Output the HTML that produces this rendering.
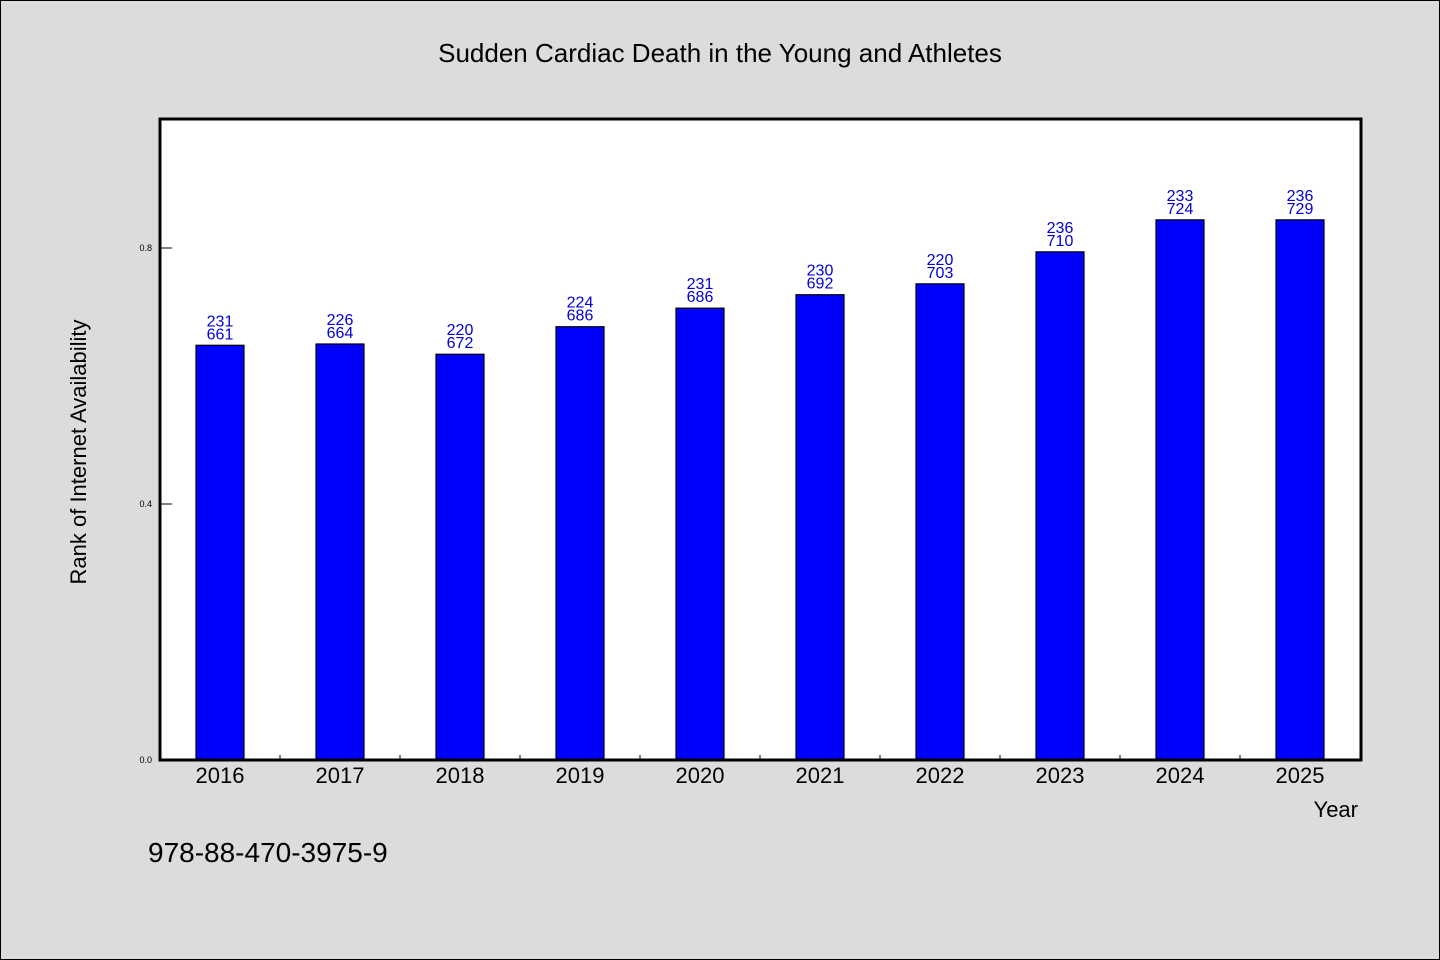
<!DOCTYPE html>
<html><head><meta charset="utf-8"><style>
html,body{margin:0;padding:0;background:#dcdcdc;}
svg{display:block;font-family:"WenQuanYi Zen Hei","Liberation Sans",sans-serif;}
</style></head><body>
<svg id="chart" width="1440" height="960" viewBox="0 0 1440 960" xmlns="http://www.w3.org/2000/svg">
<rect x="0.5" y="0.5" width="1439" height="959" fill="#dcdcdc" stroke="#000"/>
<text x="720" y="62" text-anchor="middle" font-size="26">Sudden Cardiac Death in the Young and Athletes</text>
<rect x="160" y="119" width="1201" height="641" fill="#fff"/>
<g id="bars"></g>
<g id="axes"></g>
<path d="M160 119 H1361 V760 H160 Z" fill="none" stroke="#000" stroke-width="3"/>
<text x="86" y="452" text-anchor="middle" font-size="22" transform="rotate(-90 86 452)">Rank of Internet Availability</text>
<text x="1358" y="817" text-anchor="end" font-size="22">Year</text>
<text x="148" y="862" font-size="28">978-88-470-3975-9</text>
</svg>
<script>
const categories=["2016","2017","2018","2019","2020","2021","2022","2023","2024","2025"];
const values=[0.648,0.650,0.634,0.677,0.706,0.727,0.744,0.794,0.844,0.844];
const labelTop=["231","226","220","224","231","230","220","236","233","236"];
const labelBottom=["661","664","672","686","686","692","703","710","724","729"];
const yTicks=[0,0.4,0.8];
const yTickLabels=["0.0","0.4","0.8"];
const NS="http://www.w3.org/2000/svg";
const x0=160,x1=1360,yBase=760,yTop=120,yMax=1.0;
const band=(x1-x0)/categories.length;
const yS=v=>yBase-(v/yMax)*(yBase-yTop);
const xC=i=>x0+band*(i+0.5);
function mk(t,a){const e=document.createElementNS(NS,t);for(const k in a)e.setAttribute(k,a[k]);return e;}
const bars=document.getElementById('bars'),axes=document.getElementById('axes');
categories.forEach((c,i)=>{
  const y=yS(values[i]);
  const r=mk('rect',{x:xC(i)-24,y:y,width:48,height:yBase-y,fill:'#0000ff',stroke:'#000','stroke-width':1.2});
  
  
  bars.appendChild(r);
  const t1=mk('text',{x:xC(i),y:y-19,'text-anchor':'middle','font-size':16,fill:'#0000dd'});
  t1.textContent=labelTop[i];
  
  
  bars.appendChild(t1);
  const t2=mk('text',{x:xC(i),y:y-6,'text-anchor':'middle','font-size':16,fill:'#0000dd'});
  t2.textContent=labelBottom[i];
  
  
  bars.appendChild(t2);
  const xl=mk('text',{x:xC(i),y:783,'text-anchor':'middle','font-size':22});
  xl.textContent=c;
  
  
  axes.appendChild(xl);
  if(i>0){
    const tk=mk('line',{x1:x0+band*i,x2:x0+band*i,y1:yBase-5,y2:yBase,stroke:'#000','stroke-width':1});
    
    
    axes.appendChild(tk);
  }
});
yTicks.forEach((v,i)=>{
  const y=yS(v);
  if(v>0){
    const tk=mk('line',{x1:x0,x2:x0+12,y1:y,y2:y,stroke:'#000','stroke-width':1});
    
    
    axes.appendChild(tk);
  }
  const tl=mk('text',{x:152,y:y+3,'text-anchor':'end','font-size':9,'font-family':'Liberation Sans, sans-serif'});
  tl.textContent=yTickLabels[i];
  
  
  axes.appendChild(tl);
});
</script>
</body></html>
